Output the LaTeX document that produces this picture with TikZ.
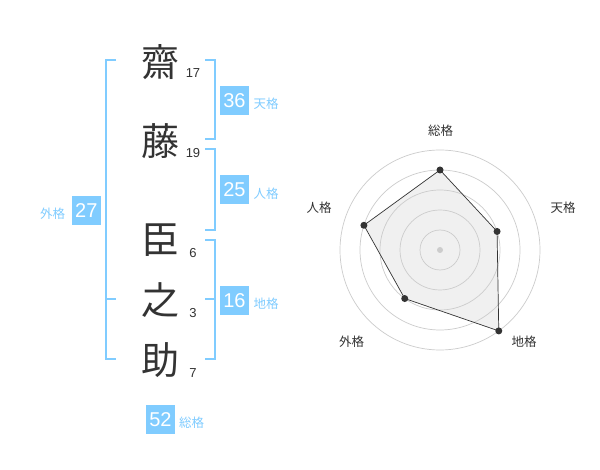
\documentclass[tikz,border=0pt]{standalone}
\usepackage{fontspec}
\setmainfont{Liberation Sans}
\newfontfamily\jpfont{Noto Sans CJK JP}
\definecolor{kakublue}{RGB}{128,204,255}
\definecolor{textgray}{RGB}{51,51,51}
\definecolor{ringgray}{RGB}{204,204,204}
\definecolor{areagray}{RGB}{240,240,240}
\tikzset{
  kanji/.style={font=\jpfont\fontsize{38}{38}\selectfont, text=textgray, inner sep=0pt},
  strokes/.style={font=\fontsize{13}{13}\selectfont, text=textgray, inner sep=0pt},
  kakubox/.style={fill=kakublue, text=white, minimum size=29pt, inner sep=0pt, font=\fontsize{20}{20}\selectfont},
  kakuname/.style={font=\jpfont\fontsize{12.5}{12.5}\selectfont, text=kakublue, inner sep=0pt},
  bracket/.style={draw=kakublue, line width=2pt},
  ring/.style={draw=ringgray, line width=0.7pt},
  axislabel/.style={font=\jpfont\fontsize{12.5}{12.5}\selectfont, text=textgray, inner sep=0pt},
  dot/.style={circle, fill=textgray, inner sep=0pt, minimum size=7pt}
}
\begin{document}
\begin{tikzpicture}[x=1pt, y=-1pt]
    \useasboundingbox (0,0) rectangle (600,470);
    \fill[white] (0,0) rectangle (600,470);
    % name, one character per line
    \node[kanji] (k1) at (160,62) {齋};
    \node[kanji] (k2) at (160,141) {藤};
    \node[kanji] (k3) at (160,240) {臣};
    \node[kanji] (k4) at (160,300) {之};
    \node[kanji] (k5) at (160,360) {助};
    \node[strokes] (s1) at (193,73) {17};
    \node[strokes] (s2) at (193,153) {19};
    \node[strokes] (s3) at (193,253) {6};
    \node[strokes] (s4) at (193,313) {3};
    \node[strokes] (s5) at (193,373) {7};
    % brackets
    \draw[bracket] (116,60) -- (105.5,60) -- (105.5,359) -- (116,359);
    \draw[bracket] (105.5,299) -- (116,299);
    \draw[bracket] (205,60) -- (215,60) -- (215,139) -- (205,139);
    \draw[bracket] (205,149) -- (215,149) -- (215,230) -- (205,230);
    \draw[bracket] (205,240) -- (215,240) -- (215,359) -- (205,359);
    \draw[bracket] (205,299) -- (215,299);
    % totals
    \node[kakubox] (ten) at (234.5,100.5) {36};
    \node[kakuname] (tenname) at (266,104) {天格};
    \node[kakubox] (jin) at (234.5,190) {25};
    \node[kakuname] (jinname) at (266,194) {人格};
    \node[kakubox] (gai) at (86.3,210.5) {27};
    \node[kakuname] (gainame) at (52.7,214) {外格};
    \node[kakubox] (chi) at (234.5,300.5) {16};
    \node[kakuname] (chiname) at (266,304) {地格};
    \node[kakubox] (sou) at (160.5,419.5) {52};
    \node[kakuname] (souname) at (191.7,423) {総格};
    % radar
    \begin{scope}[shift={(440,250)}, x=1pt, y=1pt]
        \coordinate (rsou) at (90:80pt);
        \coordinate (rten) at (18:60pt);
        \coordinate (rchi) at (-54:100pt);
        \coordinate (rgai) at (-126:60pt);
        \coordinate (rjin) at (162:80pt);
        \fill[areagray] (rsou) -- (rten) -- (rchi) -- (rgai) -- (rjin) -- cycle;
        \foreach \r in {20,40,...,100}
            \draw[ring] (0,0) circle (\r pt);
        \node[circle, fill=ringgray, inner sep=0pt, minimum size=6pt] (ctr) at (0,0) {};
        \draw[textgray, line width=0.7pt] (rsou) -- (rten) -- (rchi) -- (rgai) -- (rjin) -- cycle;
        \foreach \p in {rsou,rten,rchi,rgai,rjin}
            \node[dot] at (\p) {};
    \end{scope}
    \node[axislabel] (lsou) at (440.7,130.7) {総格};
    \node[axislabel] (lten) at (563,208) {天格};
    \node[axislabel] (lchi) at (524,342) {地格};
    \node[axislabel] (lgai) at (351.7,342) {外格};
    \node[axislabel] (ljin) at (319,208) {人格};
\end{tikzpicture}
\end{document}
